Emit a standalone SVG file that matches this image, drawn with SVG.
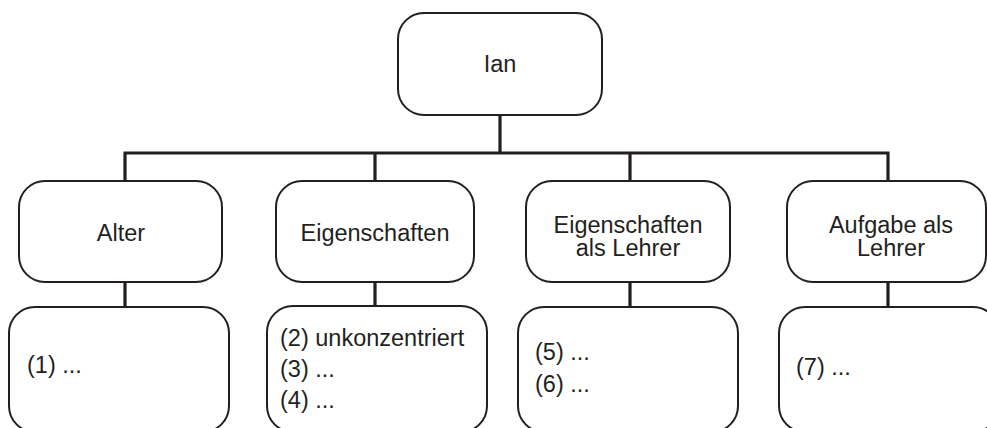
<svg xmlns="http://www.w3.org/2000/svg" width="987" height="428" viewBox="0 0 987 428">
<style>
.box{fill:#fff;stroke:#231f20;stroke-width:2}
.con{fill:none;stroke:#231f20;stroke-width:3.2}
text{font-family:"Liberation Sans",Arial,sans-serif;font-size:23.5px;fill:#231f20}
.c{text-anchor:middle}
</style>
<rect width="987" height="428" fill="#fff"/>
<g id="connectors">
<path class="con" d="M500 115V153M123.5 153H889.5M125 153V181M375 153V181M630 153V181M888 153V181"/>
<path class="con" d="M125 282V307M375 282V306M630 282V307M888 282V307"/>
</g>
<g id="ian"><rect class="box" x="398" y="13" width="204" height="102" rx="26"/><text class="c" x="500" y="72">Ian</text></g>
<g id="alter"><rect class="box" x="19" y="181" width="203" height="101" rx="26"/><text class="c" x="121" y="241">Alter</text></g>
<g id="eigenschaften"><rect class="box" x="276" y="181" width="198" height="101" rx="26"/><text class="c" x="375" y="241">Eigenschaften</text></g>
<g id="eigenschaften-lehrer"><rect class="box" x="526" y="181" width="204" height="101" rx="26"/><text class="c" x="628" y="233">Eigenschaften</text><text class="c" x="628" y="256">als Lehrer</text></g>
<g id="aufgabe-lehrer"><rect class="box" x="787" y="181" width="199" height="101" rx="26"/><text class="c" x="891" y="233">Aufgabe als</text><text class="c" x="891" y="256">Lehrer</text></g>
<g id="list-alter"><rect class="box" x="9" y="307" width="220" height="125" rx="26"/><text x="27" y="373">(1) ...</text></g>
<g id="list-eigenschaften"><rect class="box" x="267" y="306" width="220" height="126" rx="26"/><text x="280" y="346">(2) unkonzentriert</text><text x="280" y="377">(3) ...</text><text x="280" y="408">(4) ...</text></g>
<g id="list-eigenschaften-lehrer"><rect class="box" x="518" y="307" width="220" height="125" rx="26"/><text x="535" y="360">(5) ...</text><text x="535" y="392">(6) ...</text></g>
<g id="list-aufgabe-lehrer"><rect class="box" x="779" y="307" width="220" height="125" rx="26"/><text x="796" y="375">(7) ...</text></g>
</svg>
